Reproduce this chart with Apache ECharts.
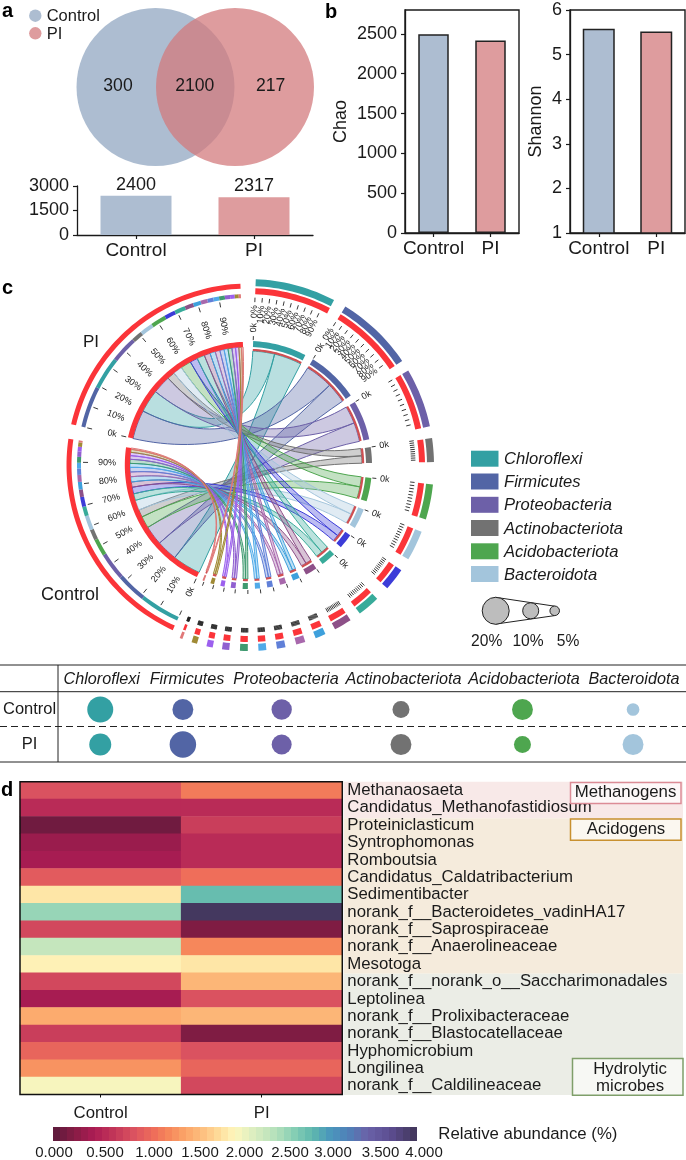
<!DOCTYPE html>
<html><head><meta charset="utf-8">
<style>html,body{margin:0;padding:0;background:#fff}#c{width:686px;height:1160px}</style>
<script src="https://cdn.jsdelivr.net/npm/echarts@6/dist/echarts.min.js"></script>
</head><body><div id="c"></div>
<script>
// ---------- data ----------
const groups = ['Control', 'PI'];
const vennCounts = [300, 2100, 217];
const otuTotals = [2400, 2317];
const chaoValues = [2495, 2416];
const shannonValues = [5.58, 5.52];

const mainPhyla = ['Chloroflexi', 'Firmicutes', 'Proteobacteria', 'Actinobacteriota', 'Acidobacteriota', 'Bacteroidota'];
const bubbleControl = [19, 14.2, 13.7, 10.8, 14.2, 7.3];
const bubblePI = [15.2, 19.5, 13.4, 14.2, 10.8, 14.2];

// chord: share (%) of each taxon in each sample; last twelve taxa are unnamed in the figure
const chordControl = [19, 14, 13, 5, 8, 6.8, 4.5, 4.5, 3.5, 3.6, 3.2, 3, 2.7, 2.7, 2.5, 2.2, 2, 0.9];
const chordPI = [15, 19, 12, 5, 6.9, 6, 5, 5, 4, 3.5, 3.1, 2.8, 2.6, 2.6, 2.4, 2.1, 1.8, 1];
const controlOrder = [0, 1, 2, 4, 3, 5, 7, 6, 8, 9, 10, 11, 12, 13, 14, 15, 16, 17];
const piOrder = [1, 0, 2, 3, 5, 4, 6, 7, 8, 9, 10, 11, 12, 13, 14, 15, 16, 17];

const genera = ['Methanaosaeta', 'Candidatus_Methanofastidiosum', 'Proteiniclasticum', 'Syntrophomonas', 'Romboutsia',
  'Candidatus_Caldatribacterium', 'Sedimentibacter', 'norank_f__Bacteroidetes_vadinHA17', 'norank_f__Saprospiraceae',
  'norank_f__Anaerolineaceae', 'Mesotoga', 'norank_f__norank_o__Saccharimonadales', 'Leptolinea',
  'norank_f__Prolixibacteraceae', 'norank_f__Blastocatellaceae', 'Hyphomicrobium', 'Longilinea', 'norank_f__Caldilineaceae'];
const heatControl = [0.88, 0.58, 0.08, 0.33, 0.42, 0.95, 1.87, 2.6, 0.8, 2.32, 2.0, 0.8, 0.42, 1.5, 0.72, 1.02, 1.35, 2.06];
const heatPI = [1.22, 0.58, 0.72, 0.57, 0.57, 1.13, 2.8, 3.96, 0.18, 1.27, 1.88, 1.57, 0.85, 1.57, 0.18, 0.85, 1.07, 0.78];
const colorbarTicks = ['0.000', '0.500', '1.000', '1.500', '2.000', '2.500', '3.000', '3.500', '4.000'];

// ---------- style / layout ----------
const FONT = '"Liberation Sans", Arial, sans-serif';
const INK = '#1a1a1a';
const BLUE = '#adbdd1', ROSE = '#de9c9e', RED = '#fb3439';
const taxonColors = ['#33a0a3', '#5265a5', '#6d60a8', '#727272', '#4ea64f', '#a3c5dc', '#3c3cd8', '#38ab9a', '#8d5088',
  '#3ea0dc', '#a868ac', '#6080d8', '#50aae8', '#3f9a70', '#9060d0', '#9c60ee', '#a08a35', '#e07878'];
const columnX = [99.7, 182.4, 281.3, 400.7, 522.3, 633];
const headerX = [101.7, 187, 286, 403.5, 524, 634];
const colorbarX = [54, 105, 154, 200, 244.5, 290, 333, 380.5, 424];
const heatStops = [[0, '#5a1b3b'], [.25, '#8a1c46'], [.45, '#ac1c54'], [.65, '#c03458'], [.9, '#dc5460'], [1.1, '#ee6c5a'],
  [1.25, '#f5845a'], [1.45, '#fba468'], [1.65, '#fdc080'], [1.8, '#fed996'], [2, '#fef7bd'], [2.2, '#dceec0'], [2.45, '#b4e0bb'],
  [2.65, '#86ceb4'], [2.85, '#5fb8ae'], [3.05, '#4a96bc'], [3.25, '#5080b8'], [3.45, '#6a62a8'], [3.7, '#5d4e92'], [4, '#403558']];
const bubbleDiameter = v => 27 * Math.pow(v / 20, 0.75);

function heatColor(v) {
  let k = 0;
  while (k < heatStops.length - 2 && v > heatStops[k + 1][0]) k++;
  const [a, ca] = heatStops[k], [b, cb] = heatStops[k + 1];
  const t = (v - a) / (b - a);
  const p = s => [1, 3, 5].map(i => parseInt(s.substr(i, 2), 16));
  const A = p(ca), B = p(cb);
  return 'rgb(' + A.map((x, i) => Math.round(x + (B[i] - x) * t)).join(',') + ')';
}
const STEPS = 52;
const heatPieces = [];
for (let i = 0; i < STEPS; i++) {
  const lo = i * 4 / STEPS, hi = (i + 1) * 4 / STEPS;
  heatPieces.push({ min: lo, max: hi, color: heatColor((lo + hi) / 2) });
}

// ---------- chord layout (degrees clockwise from north; radii in px) ----------
const sampleSpan = { Control: [204.5, 278.3], PI: [283, 357.6] };
const DEG_MAIN = 0.74, DEG_SMALL = 0.46, CHORD_START = 2.4;
const sectorGaps = [4, 3.5, 3.7, 6.9, 4, 4, 4.5, 3.5, 3.3, 3.4, 3.4, 3.3, 3.3, 3.3, 2.9, 3, 3];
const sectors = [];
{
  let a = CHORD_START;
  chordControl.forEach((c, i) => {
    const w = (c + chordPI[i]) * (i < 9 ? DEG_MAIN : DEG_SMALL);
    sectors.push({ a0: a, a1: a + w, color: taxonColors[i], i });
    a += w + (sectorGaps[i] || 0);
  });
}
const rings = [], links = [], ticks = [], labels = [];
function addRing(r0, r1, a0, a1, color) { rings.push({ r0, r1, a0, a1, color }); }
function sampleLayout(values, order, span, name) {
  const sum = values.reduce((x, y) => x + y, 0);
  const k = (span[1] - span[0]) / sum;
  let a = span[0];
  const out = {};
  order.forEach(i => { const w = values[i] * k; out[i] = [a, a + w]; addRing(167, 171, a, a + w, taxonColors[i]); a += w; });
  addRing(118, 123.2, span[0], span[1], RED);
  addRing(176.5, 181.5, span[0], span[1], RED);
  for (let t = 0; t < 10; t++) {
    const ang = span[0] + (span[1] - span[0]) * t / 10;
    ticks.push({ r0: 160, r1: 165, a: ang });
    if (t > 0) labels.push({ r: 141, a: ang, text: t * 10 + '%', align: 'center' });
  }
  ticks.push({ r0: 125, r1: 130, a: span[0] });
  labels.push({ r: 139.5, a: span[0], text: '0k', align: 'center' });
  return out;
}
const ctlArcs = sampleLayout(chordControl, controlOrder, sampleSpan.Control, 'Control');
const piArcs = sampleLayout(chordPI, piOrder, sampleSpan.PI, 'PI');
sectors.forEach(s => {
  const i = s.i, w = s.a1 - s.a0;
  const mid = s.a0 + w * chordPI[i] / (chordPI[i] + chordControl[i]);
  links.push({ s: ctlArcs[i], t: [mid, s.a1], color: s.color });
  links.push({ s: piArcs[i], t: [s.a0, mid], color: s.color });
  addRing(118, 124, s.a0, s.a1, s.color);
  addRing(114, 116.2, s.a0, s.a1, '#cf4f52');
  addRing(171, 177, s.a0, s.a1, RED);
  addRing(179, 186, s.a0, s.a1, s.color);
  for (let t = 0; t < 10; t++) {
    const ang = s.a0 + w * t / 10;
    ticks.push({ r0: 163, r1: 167.5, a: ang });
    if (i < 2) labels.push({ r: 160, a: ang, text: t * 10 + '%', align: 'right' });
  }
  ticks.push({ r0: 125, r1: 129, a: s.a0 });
  if (i < 8) labels.push({ r: 137.5, a: s.a0, text: '0k', align: 'center' });
});

// ---------- custom renderers (everything passes through the polar scales) ----------
const arcPts = (api, r, a0, a1) => {
  const n = Math.max(2, Math.ceil(Math.abs(a1 - a0) / 1.5));
  const out = [];
  for (let i = 0; i <= n; i++) out.push(api.coord([r, a0 + (a1 - a0) * i / n]));
  return out;
};
const renderRing = (p, api) => {
  const s = rings[p.dataIndex];
  return { type: 'polygon', silent: true,
    shape: { points: arcPts(api, s.r1, s.a0, s.a1).concat(arcPts(api, s.r0, s.a1, s.a0)) },
    style: { fill: s.color } };
};
const R_LINK_S = 118, R_LINK_T = 114, R_CTRL = 42;
const renderLink = (p, api) => {
  const l = links[p.dataIndex];
  const f = q => q[0].toFixed(1) + ' ' + q[1].toFixed(1);
  const sp = arcPts(api, R_LINK_S, l.s[0], l.s[1]);
  const tp = arcPts(api, R_LINK_T, l.t[0], l.t[1]);
  const cs1 = api.coord([R_CTRL, l.s[1]]), ct0 = api.coord([R_CTRL, l.t[0]]);
  const ct1 = api.coord([R_CTRL, l.t[1]]), cs0 = api.coord([R_CTRL, l.s[0]]);
  let d = 'M' + sp.map(f).join('L');
  d += 'C' + f(cs1) + ' ' + f(ct0) + ' ' + f(tp[0]);
  d += 'L' + tp.slice(1).map(f).join('L');
  d += 'C' + f(ct1) + ' ' + f(cs0) + ' ' + f(sp[0]) + 'Z';
  const rgb = l.color;
  return { type: 'group', silent: true, children: [
    { type: 'path', shape: { pathData: d }, style: { fill: rgb, opacity: 0.34, stroke: null } },
    { type: 'path', shape: { pathData: d }, style: { fill: 'none', stroke: rgb, lineWidth: 1 } }
  ] };
};
const renderTick = (p, api) => {
  const t = ticks[p.dataIndex];
  const a = api.coord([t.r0, t.a]), b = api.coord([t.r1, t.a]);
  return { type: 'line', silent: true, shape: { x1: a[0], y1: a[1], x2: b[0], y2: b[1] }, style: { stroke: '#222', lineWidth: 0.9 } };
};
const renderLabel = (p, api) => {
  const l = labels[p.dataIndex];
  const q = api.coord([l.r, l.a]);
  const right = l.a < 180;
  const rot = ((right ? 90 : 270) - l.a) * Math.PI / 180;
  const align = l.align === 'center' ? 'center' : (right ? 'right' : 'left');
  return { type: 'text', silent: true, x: q[0], y: q[1], rotation: rot,
    style: { text: l.text, fontSize: 9, fontFamily: FONT, fill: '#222', align, verticalAlign: 'middle' } };
};
const polarCustom = (arr, fn, rf, af) => ({
  type: 'custom', coordinateSystem: 'polar', polarIndex: 0, clip: false, silent: true,
  data: arr.map(x => [rf(x), af(x)]), encode: { radius: 0, angle: 1 }, renderItem: fn
});

// ---------- graphic helpers ----------
const G = [];
const txt = (x, y, text, size, o = {}) => G.push({ type: 'text', silent: true, z: 20, x, y,
  style: Object.assign({ text, fontSize: size, fontFamily: FONT, fill: INK, align: 'center', verticalAlign: 'middle' }, o) });
const rect = (x, y, w, h, fill, stroke, lw, z = 20) => G.push({ type: 'rect', silent: true, z, shape: { x, y, width: w, height: h },
  style: { fill: fill || 'none', stroke: stroke || null, lineWidth: lw || 0 } });
const line = (x1, y1, x2, y2, dash) => G.push({ type: 'line', silent: true, z: 20, shape: { x1, y1, x2, y2 },
  style: { stroke: '#222', lineWidth: 1, lineDash: dash || null } });
const circle = (cx, cy, r, fill, stroke) => G.push({ type: 'circle', silent: true, z: 20, shape: { cx, cy, r },
  style: { fill, stroke: stroke || null, lineWidth: stroke ? 1 : 0 } });

// panel letters
[['a', 2, 11], ['b', 325, 12], ['c', 2, 288], ['d', 1, 790]].forEach(l => txt(l[1], l[2], l[0], 20, { fontWeight: 'bold', align: 'left', fill: '#000' }));

// venn
circle(155.5, 87, 79, BLUE);
circle(235, 87, 79, 'rgba(210,122,124,0.74)');
circle(35.3, 15.7, 6.2, BLUE);
circle(35.3, 33.3, 6.2, ROSE);
txt(46.7, 16, groups[0], 16.5, { align: 'left' });
txt(46.7, 34, groups[1], 16.5, { align: 'left' });
[118, 194.7, 270.7].forEach((x, i) => txt(x, 86, String(vennCounts[i]), 17.6));

// chord side labels
txt(91, 342, groups[1], 17);
txt(70, 595, groups[0], 18);

// legend for phyla
const legendY = [450.7, 473.5, 496.8, 520, 543.3, 566];
mainPhyla.forEach((n, i) => {
  rect(471, legendY[i], 27.5, 16, taxonColors[i]);
  txt(504, legendY[i] + 9, n, 16.6, { align: 'left', fontStyle: 'italic' });
});
// bubble size key
line(495.5, 597.3, 554.7, 606.2);
line(495.5, 624.1, 554.7, 615.6);
[[495.7, 20], [530.7, 10], [554.7, 5]].forEach(b => circle(b[0], 610.8, bubbleDiameter(b[1]) / 2, '#bdbdbd', '#222'));
[[486.7, '20%'], [528, '10%'], [568, '5%']].forEach(b => txt(b[0], 642, b[1], 15.6));

// table
line(0, 665, 686, 665); line(0, 691.7, 686, 691.7); line(0, 762, 686, 762); line(58, 665, 58, 762);
line(0, 726.5, 686, 726.5, [7, 4]);
mainPhyla.forEach((n, i) => txt(headerX[i], 679, n, 16.2, { fontStyle: 'italic' }));

// heat side bands and tags
rect(344, 781.7, 339, 36.5, '#f8e9e8', null, 0, -5);
rect(344, 818.2, 339, 155.5, '#f5ebdc', null, 0, -5);
rect(344, 973.7, 339, 121.3, '#ebede6', null, 0, -5);
rect(570.5, 782.5, 110.5, 21, '#fdf8f8', '#dc8c96', 1.5);
txt(625.5, 792.5, 'Methanogens', 16.8);
rect(570.5, 819, 110.5, 21.3, '#fbf7f0', '#c8902f', 1.5);
txt(626, 829.8, 'Acidogens', 16.8);
rect(572.5, 1058.5, 110.5, 36.7, '#f7f8f4', '#7f9f6a', 1.5);
txt(630, 1069, 'Hydrolytic', 16.8);
txt(630, 1086, 'microbes', 16.8);
rect(20, 781.7, 322.3, 312.8, null, '#111', 1.5);
txt(438.3, 1134, 'Relative abundance (%)', 16.8, { align: 'left' });
colorbarTicks.forEach((t, i) => txt(colorbarX[i], 1153, t, 15));

// ---------- axes helpers ----------
const axisLine = { show: true, lineStyle: { color: '#1a1a1a', width: 1.3 } };
const tick = { show: true, length: 4, lineStyle: { color: '#1a1a1a', width: 1.2 } };
const catAxis = (gi, size, margin) => ({ type: 'category', gridIndex: gi, data: groups, axisLine: Object.assign({ onZero: false }, axisLine), axisTick: Object.assign({ alignWithLabel: true }, tick),
  axisLabel: { fontFamily: FONT, fontSize: size, color: INK, margin, interval: 0, hideOverlap: false }, splitLine: { show: false } });
const valAxis = (gi, min, max, interval, name, nameGap, extra) => ({ type: 'value', gridIndex: gi, min, max, interval,
  name, nameLocation: 'middle', nameGap, nameRotate: 90, nameTextStyle: { fontFamily: FONT, fontSize: 18, color: INK },
  axisLine, axisTick: tick, splitLine: { show: false },
  axisLabel: Object.assign({ fontFamily: FONT, fontSize: 18, color: INK, margin: 8, formatter: v => String(v) }, extra || {}) });
const frame = { show: true, backgroundColor: 'transparent', borderColor: '#1a1a1a', borderWidth: 1.4 };
const barStyle = (c, border) => ({ color: c, borderColor: border ? '#222' : c, borderWidth: border ? 1.5 : 0 });
const barData = (vals, border) => vals.map((v, i) => ({ value: v, itemStyle: barStyle(i ? ROSE : BLUE, border) }));

const heatData = [];
genera.forEach((g, r) => { heatData.push([0, r, heatControl[r]]); heatData.push([1, r, heatPI[r]]); });
const bubbleData = [];
mainPhyla.forEach((p, i) => { bubbleData.push([columnX[i], 0, bubbleControl[i], i]); bubbleData.push([columnX[i], 1, bubblePI[i], i]); });

const series = [
  { type: 'bar', xAxisIndex: 0, yAxisIndex: 0, barWidth: 71, data: barData(otuTotals, false),
    label: { show: true, position: 'top', distance: 2, fontFamily: FONT, fontSize: 18, color: INK } },
  { type: 'bar', xAxisIndex: 1, yAxisIndex: 1, barWidth: 30.5, data: barData(chaoValues, true) },
  { type: 'bar', xAxisIndex: 2, yAxisIndex: 2, barWidth: 32, data: barData(shannonValues, true) },
  { type: 'scatter', xAxisIndex: 3, yAxisIndex: 3, data: bubbleData, symbolSize: d => bubbleDiameter(d[2]),
    itemStyle: { color: p => taxonColors[p.value[3]], opacity: 1 } },
  { type: 'heatmap', xAxisIndex: 4, yAxisIndex: 4, data: heatData, progressive: 0 },
  polarCustom(links, renderLink, () => 100, l => (l.t[0] + l.t[1]) / 2),
  polarCustom(rings, renderRing, s => (s.r0 + s.r1) / 2, s => (s.a0 + s.a1) / 2),
  polarCustom(ticks, renderTick, t => t.r0, t => t.a),
  polarCustom(labels, renderLabel, l => l.r, l => l.a)
];

const option = {
  animation: false,
  backgroundColor: '#fff',
  textStyle: { fontFamily: FONT },
  grid: [
    { left: 77, top: 186, width: 236, height: 49 },
    Object.assign({ left: 405, top: 10, width: 114, height: 223 }, frame),
    Object.assign({ left: 570, top: 10, width: 115, height: 223 }, frame),
    { left: 58, top: 692, width: 628, height: 70 },
    { left: 20, top: 781.7, width: 322.3, height: 312.8 }
  ],
  xAxis: [
    catAxis(0, 19, 6),
    catAxis(1, 19, 6),
    catAxis(2, 19, 6),
    { type: 'value', gridIndex: 3, min: 58, max: 686, show: false, splitLine: { show: false } },
    { type: 'category', gridIndex: 4, data: groups, splitArea: { show: false },
      axisLine: { show: false }, axisTick: { show: true, length: 3, alignWithLabel: true, lineStyle: { color: '#111' } },
      axisLabel: { fontFamily: FONT, fontSize: 16.8, color: INK, margin: 10, interval: 0 } }
  ],
  yAxis: [
    Object.assign(valAxis(0, 0, 3000, 1500, '', 0), { name: '' }),
    valAxis(1, 0, 2800, 500, 'Chao', 54.5, { showMaxLabel: false }),
    valAxis(2, 1, 6, 1, 'Shannon', 24.5),
    { type: 'category', gridIndex: 3, inverse: true, data: groups, axisLine: { show: false }, axisTick: { show: false },
      axisLabel: { fontFamily: FONT, fontSize: 16.5, color: INK, align: 'center', margin: 29 } },
    { type: 'category', gridIndex: 4, inverse: true, position: 'right', data: genera, z: 6, splitArea: { show: false },
      axisLine: { show: false }, axisTick: { show: false },
      axisLabel: { fontFamily: FONT, fontSize: 16.8, color: INK, margin: 5, interval: 0, align: 'left', padding: [6, 0, 0, 0] } }
  ],
  polar: { center: [248, 465], radius: 200 },
  radiusAxis: { min: 0, max: 200, show: false },
  angleAxis: { min: 0, max: 360, startAngle: 90, clockwise: true, show: false },
  visualMap: {
    type: 'piecewise', seriesIndex: 4, dimension: 2, pieces: heatPieces, orient: 'horizontal',
    left: 53, top: 1127, padding: 0, itemWidth: 7, itemHeight: 14, itemGap: 0, itemSymbol: 'rect',
    showLabel: false, selectedMode: false, hoverLink: false, text: null
  },
  graphic: { elements: G },
  series
};
const chart = echarts.init(document.getElementById('c'), null, { renderer: 'canvas', width: 686, height: 1160 });
chart.setOption(option);
</script></body></html>
